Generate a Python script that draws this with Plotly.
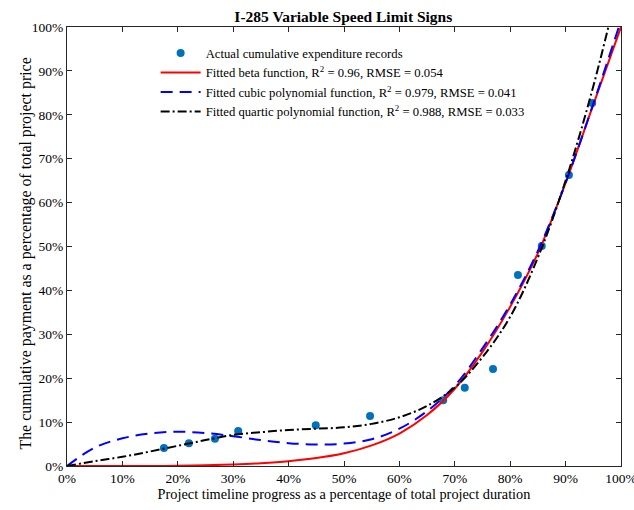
import plotly.graph_objects as go

# Actual records (fraction of duration, fraction of price)
rec_x = [0.175, 0.220, 0.267, 0.309, 0.449, 0.547, 0.679, 0.718, 0.769, 0.814, 0.857, 0.906, 0.948]
rec_y = [0.041, 0.052, 0.062, 0.080, 0.093, 0.114, 0.150, 0.178, 0.221, 0.435, 0.501, 0.663, 0.827]

# Fitted curves at 5% steps
curve_x = [0.00, 0.05, 0.10, 0.15, 0.20, 0.25, 0.30, 0.35, 0.40, 0.45, 0.50,
           0.55, 0.60, 0.65, 0.70, 0.75, 0.80, 0.85, 0.90, 0.95, 1.00]
beta_y = [0.000, 0.000, 0.000, 0.000, 0.0005, 0.0015, 0.0035, 0.0065, 0.011, 0.018, 0.029,
          0.047, 0.074, 0.116, 0.176, 0.260, 0.363, 0.485, 0.645, 0.823, 1.000]
cubic_y = [0.000, 0.042, 0.063, 0.074, 0.078, 0.075, 0.068, 0.059, 0.052, 0.049, 0.051,
           0.061, 0.085, 0.125, 0.183, 0.268, 0.368, 0.490, 0.645, 0.825, 1.015]
quartic_y = [0.000, 0.011, 0.021, 0.033, 0.046, 0.059, 0.071, 0.077, 0.082, 0.085, 0.088,
             0.096, 0.111, 0.137, 0.179, 0.248, 0.340, 0.475, 0.650, 0.865, 1.120]

tick_vals = [0, 0.1, 0.2, 0.3, 0.4, 0.5, 0.6, 0.7, 0.8, 0.9, 1.0]
tick_text = ["0%", "10%", "20%", "30%", "40%", "50%", "60%", "70%", "80%", "90%", "100%"]

FONT = "Liberation Serif"

fig = go.Figure()
fig.add_trace(go.Scatter(x=rec_x, y=rec_y, mode="markers",
                         marker=dict(color="#0072BD", size=8),
                         name="Actual cumulative expenditure records"))
fig.add_trace(go.Scatter(x=curve_x, y=beta_y, mode="lines", line=dict(color="#FF0000", width=2, shape="spline"),
                         name="Fitted beta function, R<sup>2</sup> = 0.96, RMSE = 0.054"))
fig.add_trace(go.Scatter(x=curve_x, y=cubic_y, mode="lines",
                         line=dict(color="#0000FF", width=2, dash="12px,7px", shape="spline"),
                         name="Fitted cubic polynomial function, R<sup>2</sup> = 0.979, RMSE = 0.041"))
fig.add_trace(go.Scatter(x=curve_x, y=quartic_y, mode="lines",
                         line=dict(color="#000000", width=2, dash="9px,3px,2px,3px", shape="spline"),
                         name="Fitted quartic polynomial function, R<sup>2</sup> = 0.988, RMSE = 0.033"))

axis_common = dict(range=[0, 1], tickvals=tick_vals, ticktext=tick_text,
                   ticks="inside", ticklen=5, tickcolor="#262626",
                   showline=True, linecolor="#262626", linewidth=1, mirror="ticks",
                   showgrid=False, zeroline=False, ticklabeloverflow="allow", automargin=False,
                   tickfont=dict(family=FONT, size=13.5, color="#000"))

fig.update_layout(
    width=634, height=510,
    margin=dict(l=67, r=13, t=27, b=44),
    paper_bgcolor="white", plot_bgcolor="white",
    font=dict(family=FONT, size=13, color="#000"),
    title=dict(text="<b>I-285 Variable Speed Limit Signs</b>", x=0.5415, xanchor="center",
               y=0.9676, yanchor="middle", font=dict(family=FONT, size=15.5, color="#000")),
    xaxis=dict(**axis_common, title=dict(text="Project timeline progress as a percentage of total project duration",
                                         font=dict(family=FONT, size=14.3), standoff=3)),
    yaxis=dict(**axis_common),
    legend=dict(x=0.16, y=0.9745, xanchor="left", yanchor="top", bgcolor="rgba(0,0,0,0)",
                font=dict(family=FONT, size=12.7), tracegroupgap=0, itemwidth=40),
    showlegend=True,
    annotations=[dict(text="The cumulative payment as a percentage of total project price",
                      xref="paper", yref="paper", x=-0.074, y=0.484, xanchor="center", yanchor="middle",
                      textangle=-90, showarrow=False, font=dict(family=FONT, size=15.9, color="#000"))],
)

fig.write_html("out.html")
